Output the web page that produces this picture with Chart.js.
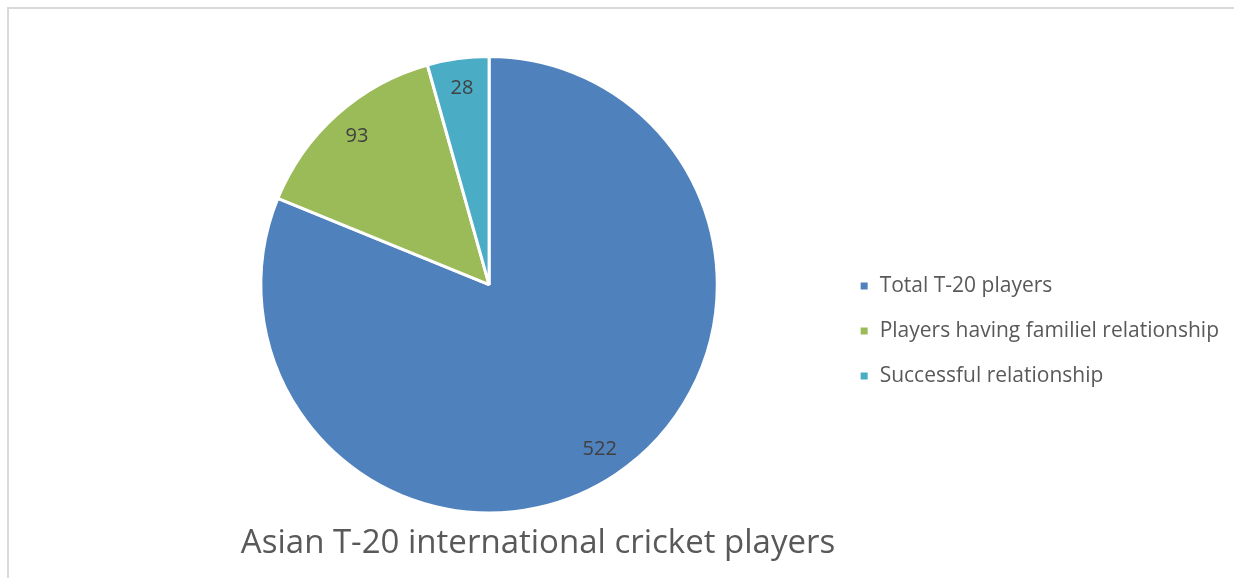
<!DOCTYPE html>
<html>
<head>
<meta charset="utf-8">
<script src="https://cdn.jsdelivr.net/npm/chart.js"></script>
<style>
  html, body { margin: 0; padding: 0; background: #fff; }
  #frame {
    position: absolute; left: 7px; top: 7px;
    width: 1240px; height: 590px;
    border-left: 2px solid #d9d9d9; border-top: 2px solid #d9d9d9;
  }
  #wrap { position: absolute; left: 0; top: 0; width: 1234px; height: 578px; }
</style>
</head>
<body>
<div id="frame"></div>
<div id="wrap"><canvas id="grafico" width="1234" height="578"></canvas></div>
<script>
var categorias = ["Total T-20 players", "Players having familiel relationship", "Successful relationship"];
var valores = [522, 93, 28];
var cores = ["#4F81BD", "#9BBB59", "#4BACC6"];
var titulo = "Asian T-20 international cricket players";

// rotulos de dados perto da borda de cada fatia
var rotulos = {
    id: "rotulos",
    afterDatasetsDraw: function(chart) {
        var ctx = chart.ctx;
        var meta = chart.getDatasetMeta(0);
        ctx.save();
        ctx.font = "20px 'Open Sans'";
        ctx.fillStyle = "#404040";
        ctx.textAlign = "center";
        ctx.textBaseline = "middle";
        meta.data.forEach(function(arco, i) {
            var meio = (arco.startAngle + arco.endAngle) / 2;
            var r = arco.outerRadius * 0.87;
            ctx.fillText(valores[i], arco.x + Math.cos(meio) * r, arco.y + Math.sin(meio) * r);
        });
        ctx.restore();
    }
};

var ctx = document.getElementById("grafico");
new Chart(ctx, {
    type: "pie",
    data: {
        labels: categorias,
        datasets: [{
            data: valores,
            backgroundColor: cores,
            borderColor: "#ffffff",
            borderWidth: 3
        }]
    },
    options: {
        responsive: false,
        animation: false,
        layout: { padding: { left: 143, right: 5, top: 55, bottom: -29 } },
        plugins: {
            tooltip: { enabled: false },
            title: {
                display: true,
                position: "bottom",
                align: "end",
                fullSize: false,
                text: titulo,
                color: "#595959",
                font: { family: "Open Sans", size: 33, weight: "normal" },
                padding: { top: 9, bottom: 44 }
            },
            legend: {
                position: "right",
                labels: {
                    color: "#595959",
                    font: { family: "Open Sans", size: 21 },
                    boxWidth: 10,
                    boxHeight: 10,
                    padding: 24
                }
            }
        }
    },
    plugins: [rotulos]
});
</script>
</body>
</html>
